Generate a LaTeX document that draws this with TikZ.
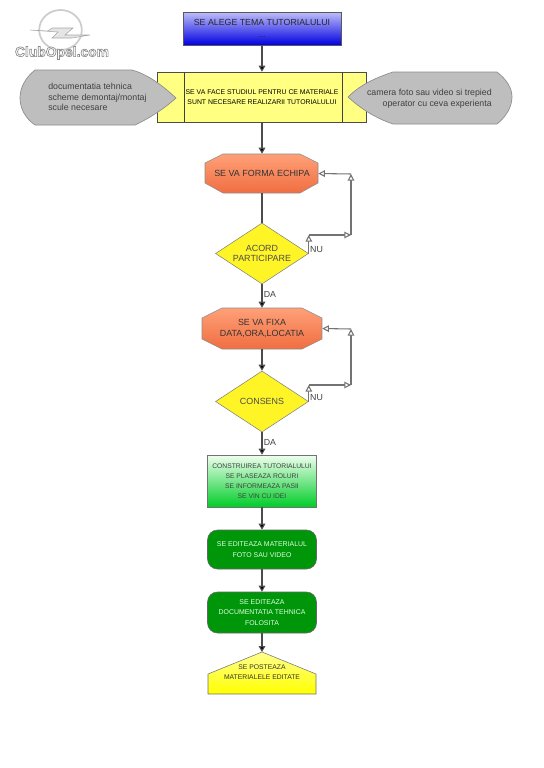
\documentclass[tikz,border=0pt]{standalone}
\usepackage{fontspec}
\setmainfont{Liberation Sans}
\usetikzlibrary{arrows.meta,shapes.geometric}
\definecolor{SkyTop}{RGB}{190,190,250}
\definecolor{DeepBlue}{RGB}{0,0,225}
\definecolor{PaleYellow}{RGB}{255,255,130}
\definecolor{SteelGray}{RGB}{190,190,190}
\definecolor{OrangeTop}{RGB}{255,160,120}
\definecolor{OrangeLow}{RGB}{240,110,65}
\definecolor{LeafGreen}{RGB}{0,150,10}
\definecolor{MintGreen}{RGB}{0,205,40}
\newcommand{\txt}[2]{\fontsize{#1}{#2}\selectfont}
\tikzset{
	link/.style={draw=black!70,line width=0.8pt,-{Triangle[length=4.5pt,width=5pt,fill=black]}},
	plain/.style={draw=black!70,line width=0.8pt},
	back/.style={draw=black!55,line width=0.8pt,-{Triangle[open,length=5pt,width=5pt,fill=white]}},
	octo/.style={draw=black!45,top color=OrangeTop,bottom color=OrangeLow},
	octotext/.style={inner sep=0pt,align=center,text=black!80,font=\txt{6.7}{8}},
	choice/.style={diamond,draw=black!50,fill=yellow!85!white,inner sep=0pt,
		minimum width=69.75pt,minimum height=45.75pt},
	choicetext/.style={inner sep=0pt,align=center,text=black!70,font=\txt{6.7}{8}},
	greenbox/.style={draw=black!60,rounded corners=7.5pt,fill=LeafGreen,minimum width=81.75pt,
		inner sep=0pt,align=center,text=green!12!white,font=\txt{5.2}{7.7}},
	side/.style={draw=black!45,fill=SteelGray,line width=0.5pt},
	sidetext/.style={inner sep=0pt,text=black!75,font=\txt{6.6}{8}},
	tag/.style={inner sep=0pt,text=black!75,font=\txt{6.6}{7}},
}
\begin{document}
\begin{tikzpicture}[x=0.75pt,y=-0.75pt]
	\useasboundingbox (0,0) rectangle (543,768);
	% logo
	\draw[black!20,line width=1.3pt] (60.5,30) circle[x radius=16pt,y radius=15pt];
	\draw[draw=black!35,fill=black!10,line width=0.4pt] (30,30)--(48,31)--(52,28)--(73,28)--(65,35)--(90,35)--(72,38)--(52,38)--(58,32)--cycle;
	\node[inner sep=0pt,font=\txt{10.4}{11}\bfseries] (logo) at (62,53)
		{\special{pdf:code 2 Tr 0.5 w 0.55 G 1 g}ClubOpel.com\special{pdf:code 0 Tr}};
	% top of the chart
	\node[draw=black!65,top color=SkyTop,bottom color=DeepBlue,minimum width=118.5pt,minimum height=24.75pt,
		inner sep=0pt,align=center,text=black!85,font=\txt{6.6}{9.6}] (theme) at (262,28.5)
		{SE ALEGE TEMA TUTORIALULUI\\...};
	\node[draw=black!70,fill=PaleYellow,minimum width=156.75pt,minimum height=37.5pt,inner sep=0pt,
		align=center,font=\txt{5.15}{7.8}] (study) at (262,97)
		{SE VA FACE STUDIUL PENTRU CE MATERIALE\\SUNT NECESARE REALIZARII TUTORIALULUI};
	\foreach \x in {184,342}
		\draw[black!75,line width=0.5pt] (\x,72)--(\x,122);
	% the two side shapes
	\draw[side] (35,70)--(132,70)
		.. controls (150,75) and (165,88) .. (176,98)
		.. controls (165,108) and (150,118) .. (135,125)--(35,125)
		.. controls (25,118) and (20,108) .. (20,98)
		.. controls (20,88) and (25,78) .. (35,70)--cycle;
	\node[sidetext,align=left,anchor=west] (docs) at (48,97)
		{documentatia tehnica\\scheme demontaj/montaj\\scule necesare};
	\draw[side] (393,72)--(497,72)
		.. controls (507,80) and (512,88) .. (512,97)
		.. controls (512,106) and (507,116) .. (497,124)
		--(393,124)
		.. controls (375,118) and (360,108) .. (348,97)
		.. controls (360,85) and (375,78) .. (393,72)--cycle;
	\node[sidetext,align=right,anchor=east] (gear) at (492,98.5)
		{camera foto sau video si trepied\\operator cu ceva experienta};
	% team loop
	\draw[octo] (223,154)--(300,154)--(318,163)--(318,183)--(300,193)--(223,193)--(205,183)--(205,163)--cycle;
	\node[octotext,minimum width=84pt,minimum height=29.25pt] (team) at (262,173.5) {SE VA FORMA ECHIPA};
	\node[choice] (agree) at (262,253.5) {};
	\node[choicetext] (agreetext) at (agree) {ACORD\\PARTICIPARE};
	\coordinate (agreeup) at (agree.east |- 0,235);
	\coordinate (agreeout) at (351,235);
	\coordinate (agreeback) at (351,174);
	% date loop
	\draw[octo] (222,308)--(302,308)--(322,318)--(322,339)--(302,349)--(222,349)--(202,339)--(202,318)--cycle;
	\node[octotext,minimum width=90pt,minimum height=30.75pt] (date) at (262,328.5) {SE VA FIXA\\DATA,ORA,LOCATIA};
	\node[choice] (vote) at (262,401.5) {};
	\node[choicetext] (votetext) at (vote) {CONSENS};
	\coordinate (voteup) at (vote.east |- 0,385);
	\coordinate (voteout) at (351,385);
	\coordinate (voteback) at (351,329);
	% last steps
	\node[draw=black!55,top color=green!6!white,bottom color=MintGreen,minimum width=81.75pt,
		minimum height=39pt,inner sep=0pt,align=center,text=black!75,font=\txt{5.05}{7.5}] (build) at (262,481)
		{CONSTRUIREA TUTORIALULUI\\SE PLASEAZA ROLURI\\SE INFORMEAZA PASII\\SE VIN CU IDEI};
	\node[greenbox,minimum height=29.25pt] (editmedia) at (262,549.5)
		{SE EDITEAZA MATERIALUL\\FOTO SAU VIDEO};
	\node[greenbox,minimum height=30.75pt] (editdocs) at (262,612.5)
		{SE EDITEAZA\\DOCUMENTATIA TEHNICA\\FOLOSITA};
	\coordinate (posttip) at (262,652);
	\draw[draw=black!55,top color=yellow!45!white,bottom color=yellow]
		(posttip)--(316,674)--(316,694)--(208,694)--(208,674)--cycle;
	\node[inner sep=0pt,align=center,text=black!80,font=\txt{5.1}{7.5}] (post) at (262,672)
		{SE POSTEAZA\\MATERIALELE EDITATE};
	% connectors
	\foreach \a/\b in {theme/study,study/team,agree/date,date/vote,vote/build,build/editmedia,editmedia/editdocs}
		\draw[link] (\a)--(\b);
	\draw[link] (editdocs)--(posttip);
	\draw[plain] (team)--(agree);
	\foreach \a/\b in {agree.east/agreeup,agreeup/agreeout,agreeout/agreeback,agreeback/team.east,
		vote.east/voteup,voteup/voteout,voteout/voteback,voteback/date.east}
		\draw[back] (\a)--(\b);
	\node[tag] (agreeno) at (316.5,250) {NU};
	\node[tag] (agreeyes) at (270,294) {DA};
	\node[tag] (voteno) at (316.5,398) {NU};
	\node[tag] (voteyes) at (270,442) {DA};
\end{tikzpicture}
\end{document}
